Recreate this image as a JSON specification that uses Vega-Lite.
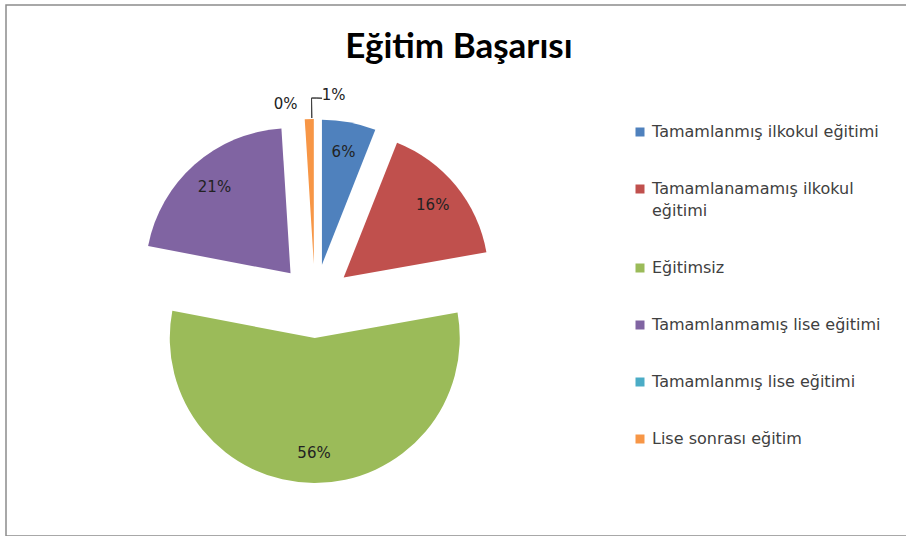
{
  "$schema": "https://vega.github.io/schema/vega-lite/v6.json",
  "width": 906,
  "height": 531,
  "autosize": {"type": "none"},
  "padding": {"left": 6, "top": 5, "right": 0, "bottom": 0},
  "background": "white",
  "config": {
    "view": {"stroke": "#8c8c8c", "strokeWidth": 1.5},
    "style": {"guide-label": {"lineHeight": 22}}
  },
  "title": {"text": "Eğitim Başarısı", "font": "Lato", "fontSize": 35, "fontWeight": "bold", "color": "#000000", "offset": -60, "anchor": "middle"},
  "data": {"values": [
    {"kategori": "Tamamlanmış ilkokul eğitimi", "yuzde": 6.0},
    {"kategori": "Tamamlanamamış ilkokul eğitimi", "yuzde": 16.2},
    {"kategori": "Eğitimsiz", "yuzde": 55.8},
    {"kategori": "Tamamlanmamış lise eğitimi", "yuzde": 21.0},
    {"kategori": "Tamamlanmış lise eğitimi", "yuzde": 0.0},
    {"kategori": "Lise sonrası eğitim", "yuzde": 1.0}
  ]},
  "transform": [
    {"window": [{"op": "sum", "field": "yuzde", "as": "bitis"}], "frame": [null, 0]},
    {"calculate": "datum.bitis - datum.yuzde", "as": "baslangic"},
    {"calculate": "(datum.baslangic + datum.bitis) / 2", "as": "orta"},
    {"calculate": "37 * sin(datum.orta / 100 * 2 * PI)", "as": "kx"},
    {"calculate": "37 * cos(datum.orta / 100 * 2 * PI)", "as": "ky"},
    {"calculate": "format(datum.yuzde / 100, '.0%')", "as": "etiket"}
  ],
  "encoding": {
    "x": {"field": "kx", "type": "quantitative", "scale": {"domain": [-309, 597], "range": [0, 906], "zero": false, "nice": false}, "axis": null},
    "y": {"field": "ky", "type": "quantitative", "scale": {"domain": [-235, 296], "range": [531, 0], "zero": false, "nice": false}, "axis": null}
  },
  "layer": [
    {
      "mark": {"type": "arc", "radius": 145},
      "encoding": {
        "theta": {"field": "baslangic", "type": "quantitative", "stack": null, "scale": {"domain": [0, 100], "range": [0, 6.283185307179586]}},
        "theta2": {"field": "bitis"},
        "color": {
          "field": "kategori", "type": "nominal",
          "scale": {
            "domain": ["Tamamlanmış ilkokul eğitimi", "Tamamlanamamış ilkokul eğitimi", "Eğitimsiz", "Tamamlanmamış lise eğitimi", "Tamamlanmış lise eğitimi", "Lise sonrası eğitim"],
            "range": ["#4F81BD", "#C0504D", "#9BBB59", "#8064A2", "#4BACC6", "#F79646"]
          },
          "legend": {
            "title": null, "orient": "none", "legendX": 626, "legendY": 119,
            "symbolType": "square", "symbolSize": 81, "symbolStrokeWidth": 0,
            "labelFont": "DejaVu Sans", "labelFontSize": 16, "labelColor": "#404040",
            "labelOffset": 4, "labelLimit": 400, "rowPadding": 41,
            "labelExpr": "datum.label == 'Tamamlanamamış ilkokul eğitimi' ? ['Tamamlanamamış ilkokul', 'eğitimi'] : datum.label"
          }
        }
      }
    },
    {
      "transform": [{"filter": "datum.yuzde >= 5"}],
      "mark": {"type": "text", "radius": 115, "font": "DejaVu Sans", "fontSize": 15, "color": "#222222"},
      "encoding": {
        "theta": {"field": "orta", "type": "quantitative", "stack": null},
        "text": {"field": "etiket"}
      }
    },
    {
      "transform": [{"filter": "datum.kategori == 'Tamamlanmış lise eğitimi'"}],
      "mark": {"type": "text", "radius": 160, "dx": -17, "font": "DejaVu Sans", "fontSize": 15, "color": "#222222"},
      "encoding": {
        "theta": {"field": "orta", "type": "quantitative", "stack": null},
        "text": {"field": "etiket"}
      }
    },
    {
      "transform": [{"filter": "datum.kategori == 'Lise sonrası eğitim'"}],
      "mark": {"type": "text", "radius": 169, "dx": 25, "font": "DejaVu Sans", "fontSize": 15, "color": "#222222"},
      "encoding": {
        "theta": {"field": "orta", "type": "quantitative", "stack": null},
        "text": {"field": "etiket"}
      }
    },
    {
      "transform": [{"filter": "datum.kategori == 'Lise sonrası eğitim'"}],
      "mark": {"type": "arc", "radius": 166, "radius2": 146, "theta": 6.2692, "theta2": 6.2692, "fill": null, "stroke": "#404040", "strokeWidth": 1},
      "encoding": {}
    },
    {
      "transform": [{"filter": "datum.kategori == 'Lise sonrası eğitim'"}],
      "mark": {"type": "arc", "radius": 166, "radius2": 166, "theta": 6.2692, "theta2": 6.3326, "fill": null, "stroke": "#404040", "strokeWidth": 1},
      "encoding": {}
    }
  ]
}
